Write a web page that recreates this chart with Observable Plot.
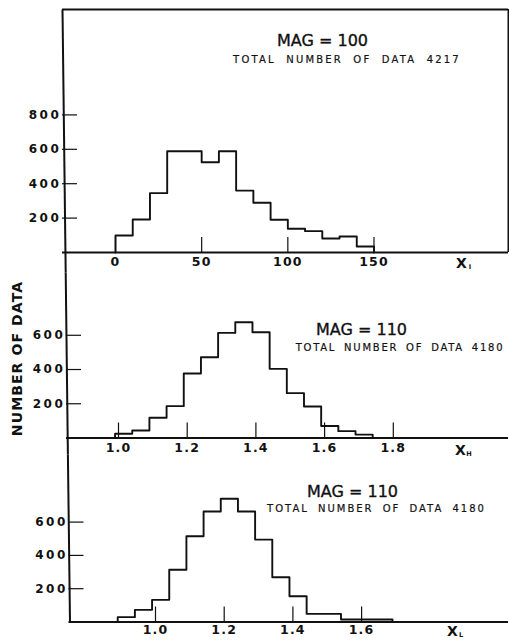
<!DOCTYPE html>
<html>
<head>
<meta charset="utf-8">
<script src="https://cdn.jsdelivr.net/npm/d3@7"></script>
<script src="https://cdn.jsdelivr.net/npm/@observablehq/plot@0.6"></script>
<style>
  html, body { margin: 0; padding: 0; background: #fff; }
  #fig { width: 509px; height: 642px; overflow: hidden; background: #fff; }
  #fig svg { display: block; }
</style>
</head>
<body>
<div id="fig"></div>
<script>
// ---------------- data ----------------
// Panel 1 : MAG = 100, variable X_I
const titleI = "MAG = 100";
const totalI = "TOTAL NUMBER OF DATA 4217";
const binStartI = [0, 10, 20, 30, 40, 50, 60, 70, 80, 90, 100, 110, 120, 130, 140];
const countI    = [99, 192, 345, 589, 589, 525, 589, 360, 289, 190, 138, 124, 81, 93, 35];
const binWidthI = 10;
const xTicksI = [0, 50, 100, 150];
const yTicksI = [200, 400, 600, 800];

// Panel 2 : MAG = 110, variable X_H
const titleH = "MAG = 110";
const totalH = "TOTAL NUMBER OF DATA 4180";
const binStartH = [0.99, 1.04, 1.09, 1.14, 1.19, 1.24, 1.29, 1.34, 1.39, 1.44, 1.49, 1.54, 1.59, 1.64, 1.69];
const countH    = [25, 44, 118, 186, 377, 472, 614, 676, 618, 404, 262, 184, 70, 40, 20];
const binWidthH = 0.05;
const xTicksH = [1.0, 1.2, 1.4, 1.6, 1.8];
const yTicksH = [200, 400, 600];

// Panel 3 : MAG = 110, variable X_L
const titleL = "MAG = 110";
const totalL = "TOTAL NUMBER OF DATA 4180";
const binStartL = [0.89, 0.94, 0.99, 1.04, 1.09, 1.14, 1.19, 1.24, 1.29, 1.34, 1.39, 1.44, 1.49, 1.54, 1.59, 1.64];
const countL    = [29, 73, 133, 314, 515, 664, 740, 664, 495, 269, 155, 49, 49, 15, 15, 15];
const binWidthL = 0.05;
const xTicksL = [1.0, 1.2, 1.4, 1.6];
const yTicksL = [200, 400, 600];

const yAxisTitle = "NUMBER OF DATA";
const axisNames = [["X", "I"], ["X", "H"], ["X", "L"]];

// ---------------- layout ----------------
const W = 509;
const INK = "#111";
const FONT = "'DejaVu Sans', 'Liberation Sans', sans-serif";

function steps(starts, counts, w) {
  const pts = [{x: starts[0], y: 0}];
  starts.forEach((s, i) => pts.push({x: s, y: counts[i]}));
  const end = starts[starts.length - 1] + w;
  pts.push({x: end, y: counts[counts.length - 1]}, {x: end, y: 0});
  return pts;
}

function makePanel(P) {
  const {height, mt, mb, ml, mr, p0, v0, kx, ky} = P.layout;
  const xDomain = [v0 + (ml - p0) / kx, v0 + (W - mr - p0) / kx];
  const yMax = (height - mt - mb) / ky;
  const X = px => v0 + (px - p0) / kx;           // pixel -> x value
  const Y = py => (height - mb - py) / ky;       // local pixel -> y value

  const marks = [
    Plot.ruleY([0], {stroke: INK, strokeWidth: 2}),
    Plot.ruleX(P.xTicks, {x: d => d, y1: 0, y2: 15 / ky, stroke: INK, strokeWidth: 1.2}),
    Plot.ruleY(P.yTicks, {y: d => d, x1: xDomain[0], x2: xDomain[0] + 15 / kx, stroke: INK, strokeWidth: 1.2}),
    Plot.line(steps(P.starts, P.counts, P.w), {x: "x", y: "y", curve: "step-after", stroke: INK, strokeWidth: 1.9}),
    Plot.axisY(P.yTicks, {tickSize: 0, tickPadding: P.yPad, fontSize: 12, fontWeight: "bold", label: null, fill: INK}),
    Plot.axisX(P.xTicks, {tickSize: 0, tickPadding: P.xPad, fontSize: 12.5, fontWeight: "bold", label: null, tickFormat: P.fmt, fill: INK}),
    Plot.link([0], {x1: X(P.line[0]), y1: Y(P.line[1]), x2: X(P.line[2]), y2: Y(P.line[3]), stroke: INK, strokeWidth: 2}),
    Plot.text([P.title], {x: X(P.titlePos[0]), y: Y(P.titlePos[1]), text: d => d, fontSize: 16, fill: INK, stroke: INK, strokeWidth: 0.35}),
    Plot.text([P.total], {x: X(P.totalPos[0]), y: Y(P.totalPos[1]), text: d => d, fontSize: 10, fill: INK, stroke: INK, strokeWidth: 0.2}),
    Plot.text([P.name[0]], {x: X(P.namePos[0]), y: Y(P.namePos[1]), text: d => d, fontSize: 14, fontWeight: "bold", fill: INK}),
    Plot.text([P.name[1]], {x: X(P.namePos[0] + 8.5), y: Y(P.namePos[1] + 3.5), text: d => d, fontSize: 6.5, fontWeight: "bold", fill: INK})
  ];
  if (P.frame) {
    marks.push(Plot.ruleY([yMax], {stroke: INK, strokeWidth: 2}));
    marks.push(Plot.ruleX([xDomain[1]], {y1: 0, y2: yMax, stroke: INK, strokeWidth: 2}));
  }
  if (P.yTitle) {
    marks.push(Plot.text([P.yTitle], {x: X(P.yTitlePos[0]), y: Y(P.yTitlePos[1]), text: d => d, rotate: -90, fontSize: 14, fontWeight: "bold", fill: INK}));
  }
  const svg = Plot.plot({
    width: W, height,
    marginTop: mt, marginBottom: mb, marginLeft: ml, marginRight: mr,
    x: {domain: xDomain, label: null},
    y: {domain: [0, yMax], label: null},
    style: {fontFamily: FONT, background: "#fff", color: INK, overflow: "visible"},
    marks
  });
  const s = d3.select(svg);
  s.selectAll('g[aria-label="y-axis tick label"] text').style("letter-spacing", "2.6px");
  s.selectAll('g[aria-label="x-axis tick label"] text').style("letter-spacing", "1.2px");
  s.selectAll("text").each(function () {
    const t = this.textContent;
    if (t.startsWith("TOTAL")) d3.select(this).style("letter-spacing", P.totalLS + "px").style("word-spacing", P.totalWS + "px");
    if (t === yAxisTitle) d3.select(this).style("letter-spacing", "1.1px");
  });
  return svg;
}

const fig = document.getElementById("fig");

fig.appendChild(makePanel({
  layout: {height: 272, mt: 9, mb: 20, ml: 62, mr: 1, p0: 115, v0: 0, kx: 1.7233, ky: 0.172},
  starts: binStartI, counts: countI, w: binWidthI,
  xTicks: xTicksI, yTicks: yTicksI, fmt: d3.format("d"),
  xPad: 5, yPad: 1,
  line: [62, 9, 65.2, 272],
  title: titleI, titlePos: [322, 40],
  total: totalI, totalPos: [346.5, 59], totalLS: 2.2, totalWS: 5,
  name: axisNames[0], namePos: [461, 263],
  frame: true
}));

fig.appendChild(makePanel({
  layout: {height: 182, mt: 0, mb: 16.5, ml: 66, mr: 1, p0: 118, v0: 1, kx: 343.5, ky: 0.1712},
  starts: binStartH, counts: countH, w: binWidthH,
  xTicks: xTicksH, yTicks: yTicksH, fmt: d3.format(".1f"),
  xPad: 5, yPad: 1,
  line: [65.2, 0, 67.4, 182],
  title: titleH, titlePos: [361, 57],
  total: totalH, totalPos: [399.5, 75.5], totalLS: 1.75, totalWS: 3,
  name: axisNames[1], namePos: [460, 178],
  yTitle: yAxisTitle, yTitlePos: [17.5, 86]
}));

fig.appendChild(makePanel({
  layout: {height: 188, mt: 0, mb: 20.5, ml: 68.5, mr: 1, p0: 155, v0: 1, kx: 343.5, ky: 0.1665},
  starts: binStartL, counts: countL, w: binWidthL,
  xTicks: xTicksL, yTicks: yTicksL, fmt: d3.format(".1f"),
  xPad: 3, yPad: 1,
  line: [67.4, 0, 69.5, 167.5],
  title: titleL, titlePos: [352, 37],
  total: totalL, totalPos: [376, 54], totalLS: 2.0, totalWS: 4,
  name: axisNames[2], namePos: [452, 177]
}));
</script>
</body>
</html>
